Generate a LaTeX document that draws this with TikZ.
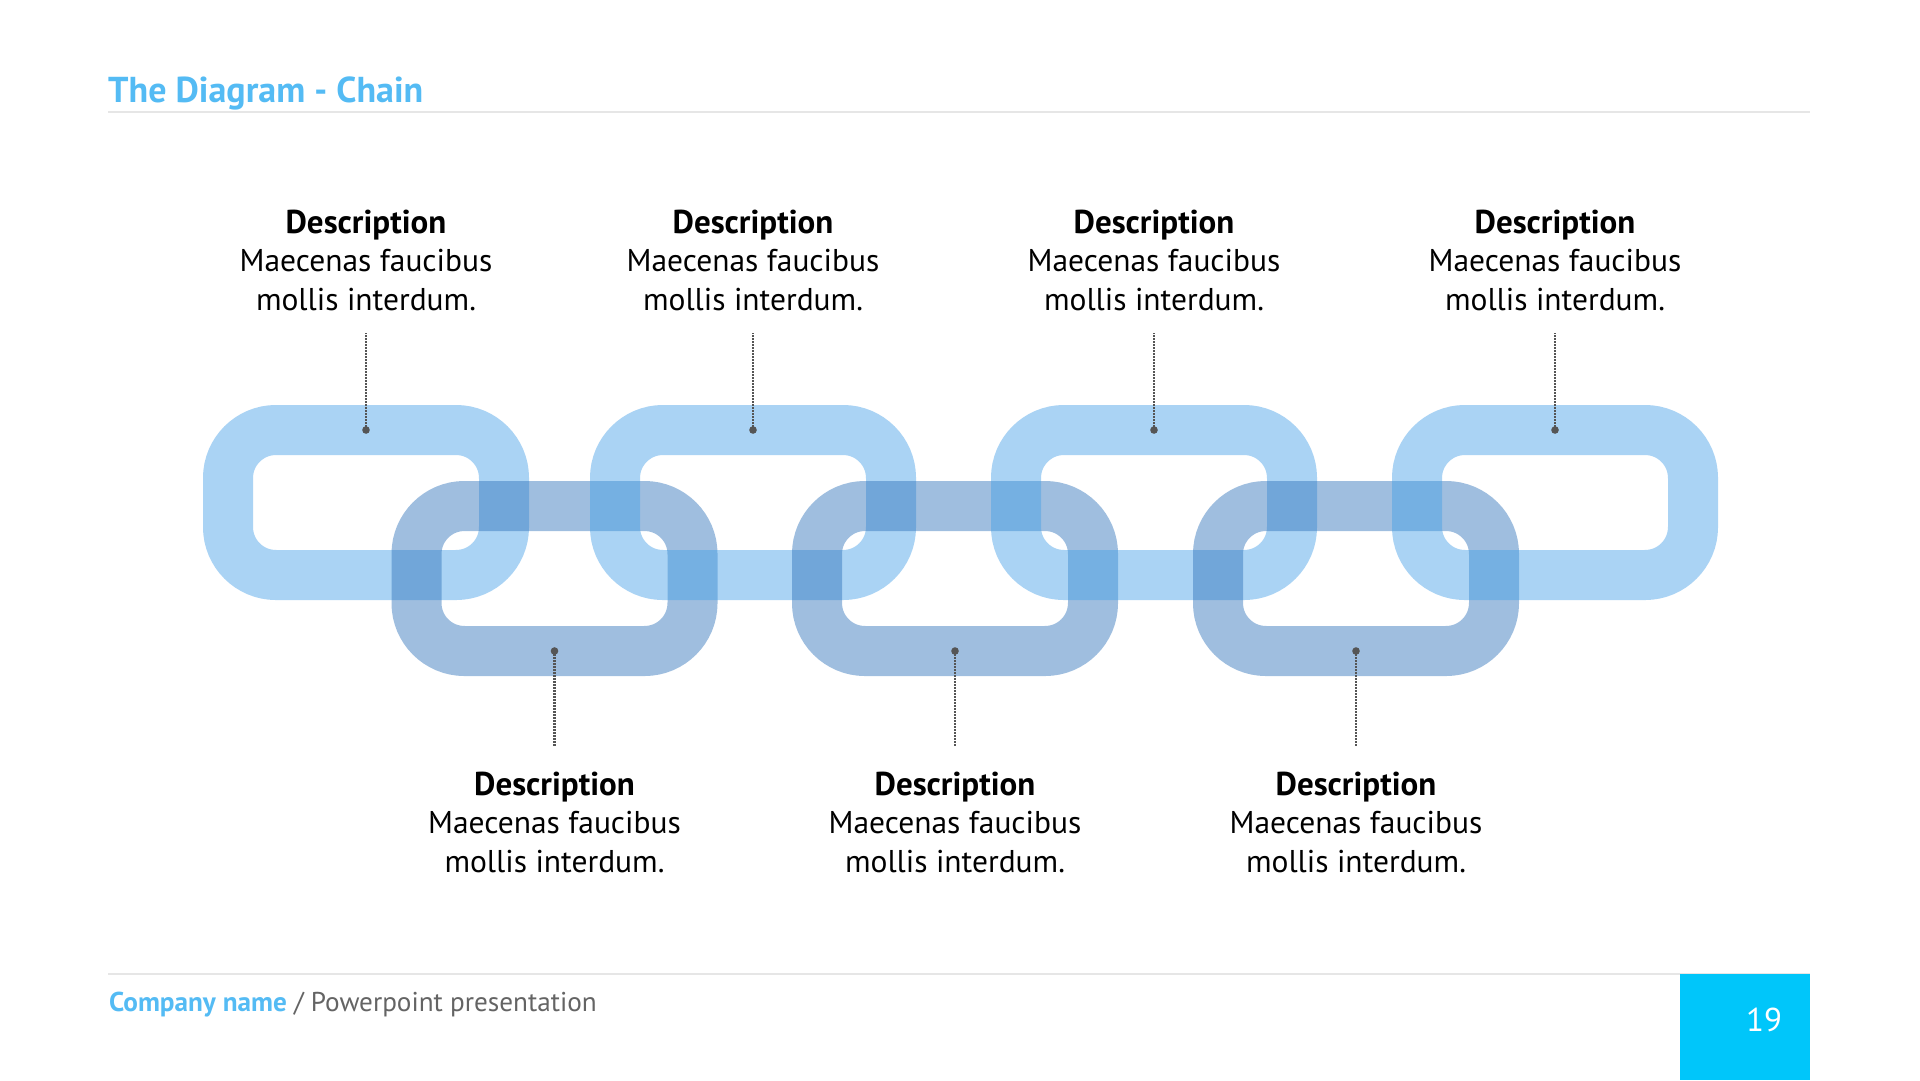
\documentclass[tikz,border=0pt]{standalone}
\usepackage{fontspec}
\setmainfont{PT Sans}
\usetikzlibrary{calc}

\definecolor{accent}{RGB}{84,187,244}
\definecolor{pagecyan}{RGB}{0,198,250}
\definecolor{rulegray}{RGB}{230,230,230}
\definecolor{footgray}{RGB}{100,100,100}
\definecolor{leadgray}{RGB}{85,85,85}
\definecolor{linkup}{RGB}{68,159,231}
\definecolor{linkdown}{RGB}{44,113,186}

\begin{document}
\begin{tikzpicture}[x=1pt,y=-1pt,
  chainlink/.style={draw opacity=0.45, line width=50pt, rounded corners=48pt,
    minimum width=276pt, minimum height=145pt, inner sep=0pt, outer sep=0pt},
  uplink/.style={chainlink, draw=linkup},
  downlink/.style={chainlink, draw=linkdown},
  label/.style={align=center, inner sep=0pt, anchor=base,
    font=\fontsize{31.5}{38.5}\selectfont},
  leader/.style={draw=leadgray, line width=2.2pt, dash pattern=on 1.6pt off 1.4pt},
  pin/.style={fill=leadgray},
  hairline/.style={draw=rulegray, line width=2pt}]

\useasboundingbox (0,0) rectangle (1920,1080);
\fill[white] (0,0) rectangle (1920,1080);

% heading and its rule
\draw[hairline] (108,112) -- (1810,112);
\node[anchor=base west, inner sep=0pt, text=accent,
  font=\fontsize{36}{36}\selectfont\bfseries] (title) at (108,102) {The Diagram - Chain};

% chain links, drawn left to right so each one overlaps the previous
\node[uplink]   (u1) at (366,502.5) {};
\node[downlink] (l1) at (554.5,578.5) {};
\node[uplink]   (u2) at (753,502.5) {};
\node[downlink] (l2) at (955,578.5) {};
\node[uplink]   (u3) at (1154,502.5) {};
\node[downlink] (l3) at (1356,578.5) {};
\node[uplink]   (u4) at (1555,502.5) {};

% descriptions above the upper links (anchored on the last line's baseline)
\foreach \n/\x in {1/366, 2/753, 3/1154, 4/1555} {
  \node[label] (t\n) at (\x,310)
    {{\fontsize{33}{38.5}\selectfont\bfseries Description}\\Maecenas faucibus\\mollis interdum.};
  \coordinate (e\n) at (\x,333);
  \draw[leader] (u\n.north) -- (e\n);
  \fill[pin] (u\n.north) circle (3.8);
}

% descriptions below the lower links
\foreach \n/\x in {1/554.5, 2/955, 3/1356} {
  \node[label] (b\n) at (\x,872)
    {{\fontsize{33}{38.5}\selectfont\bfseries Description}\\Maecenas faucibus\\mollis interdum.};
  \coordinate (f\n) at (\x,746);
  \draw[leader] (l\n.south) -- (f\n);
  \fill[pin] (l\n.south) circle (3.8);
}

% footer
\draw[hairline] (108,974) -- (1810,974);
\node[anchor=base west, inner sep=0pt, font=\fontsize{27.2}{27.2}\selectfont] (foot) at (109,1011)
  {\textcolor{accent}{\bfseries Company name} \textcolor{footgray}{/ Powerpoint presentation}};
\fill[pagecyan] (1680,974) rectangle (1810,1080);
\node[text=white, inner sep=0pt, font=\fontsize{33}{33}\selectfont] (pagenum) at (1764,1019.5) {19};

\end{tikzpicture}
\end{document}
